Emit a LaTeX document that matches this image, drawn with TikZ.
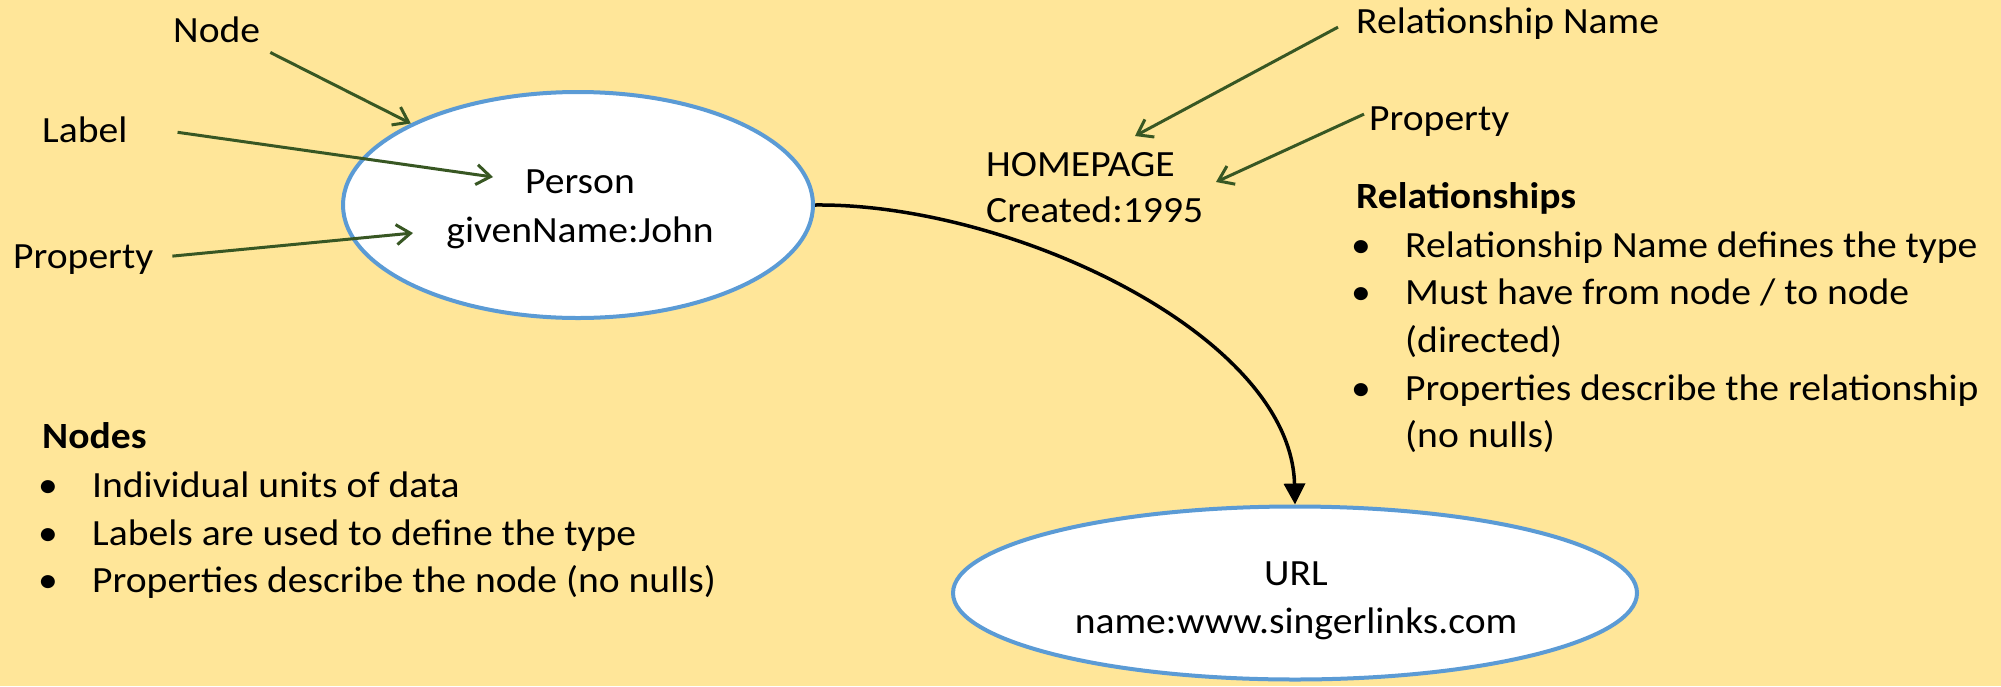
\documentclass[tikz,border=0pt]{standalone}
\usepackage{fontspec}
\setmainfont{Carlito}[FakeStretch=1.07]
\usetikzlibrary{arrows.meta,shapes.geometric}
\definecolor{paper}{HTML}{FFE699}
\definecolor{rim}{HTML}{5B9BD5}
\definecolor{pointer}{HTML}{385723}
\tikzset{
  entity/.style={ellipse, draw=rim, line width=4pt, fill=white, inner sep=0pt},
  txt/.style={inner sep=0pt, text=black, font=\fontsize{37}{44}\selectfont},
  head/.style={inner sep=0pt, text=black, font=\fontsize{37}{44}\selectfont\bfseries},
  ptr/.style={draw=pointer, line width=3pt, -{Straight Barb[length=14pt,width=20pt]}},
  relarrow/.style={draw=black, line width=3.5pt, -{Triangle[length=21pt,width=21pt]}},
}
\begin{document}
\begin{tikzpicture}[x=1pt,y=-1pt]
\useasboundingbox (0,0) rectangle (2001,686);
\fill[paper] (0,0) rectangle (2001,686);

% the two entities
\node[entity, minimum width=470pt, minimum height=226pt] (person) at (578,205) {};
\node[txt, anchor=base] (personlbl) at (580,193) {Person};
\node[txt, anchor=base] (personprop) at (580,242) {givenName:John};

\node[entity, minimum width=684pt, minimum height=173pt] (url) at (1295,593) {};
\node[txt, anchor=base] (urllbl) at (1296,585) {URL};
\node[txt, anchor=base] (urlprop) at (1296,633) {name:www.singerlinks.com};

% the relationship between them
\draw[relarrow] (person.east) .. controls (1010,203) and (1291,335) .. (url.north);
\node[txt, anchor=base west] (relname) at (986,176) {HOMEPAGE};
\node[txt, anchor=base west] (relprop) at (986,222) {Created:1995};

% callout labels
\node[txt, anchor=base west] (nodecall) at (173,42) {Node};
\node[txt, anchor=base west] (labelcall) at (42,142) {Label};
\node[txt, anchor=base west] (propcall) at (13,268) {Property};
\node[txt, anchor=base west] (relnamecall) at (1356,33) {Relationship Name};
\node[txt, anchor=base west] (relpropcall) at (1369,130) {Property};

\coordinate (labeltip) at (493,177);
\coordinate (proptip) at (413,233);
\coordinate (relnametip) at (1135,136);
\coordinate (relproptip) at (1216,182);

\draw[ptr] ([xshift=10pt,yshift=-10pt]nodecall.south east) -- (person.154);
\draw[ptr] ([xshift=50pt,yshift=-3pt]labelcall.east) -- (labeltip);
\draw[ptr] ([xshift=19pt,yshift=3pt]propcall.east) -- (proptip);
\draw[ptr] ([xshift=-18pt,yshift=-4pt]relnamecall.west) -- (relnametip);
\draw[ptr] ([xshift=-5pt,yshift=7pt]relpropcall.west) -- (relproptip);

% notes on relationships
\node[head, anchor=base west] (relhead) at (1356,208) {Relationships};
\node[txt, anchor=base] (rb1) at (1361,257) {•};
\node[txt, anchor=base west] (rt1) at (1405,257) {Relationship Name defines the type};
\node[txt, anchor=base] (rb2) at (1361,304) {•};
\node[txt, anchor=base west] (rt2) at (1405,304) {Must have from node / to node};
\node[txt, anchor=base west] (rt2b) at (1405,352) {(directed)};
\node[txt, anchor=base] (rb3) at (1361,400) {•};
\node[txt, anchor=base west] (rt3) at (1405,400) {Properties describe the relationship};
\node[txt, anchor=base west] (rt3b) at (1405,447) {(no nulls)};

% notes on nodes
\node[head, anchor=base west] (nodehead) at (42,448) {Nodes};
\node[txt, anchor=base] (nb1) at (48,497) {•};
\node[txt, anchor=base west] (nt1) at (92,497) {Individual units of data};
\node[txt, anchor=base] (nb2) at (48,545) {•};
\node[txt, anchor=base west] (nt2) at (92,545) {Labels are used to define the type};
\node[txt, anchor=base] (nb3) at (48,592) {•};
\node[txt, anchor=base west] (nt3) at (92,592) {Properties describe the node (no nulls)};
\end{tikzpicture}
\end{document}
